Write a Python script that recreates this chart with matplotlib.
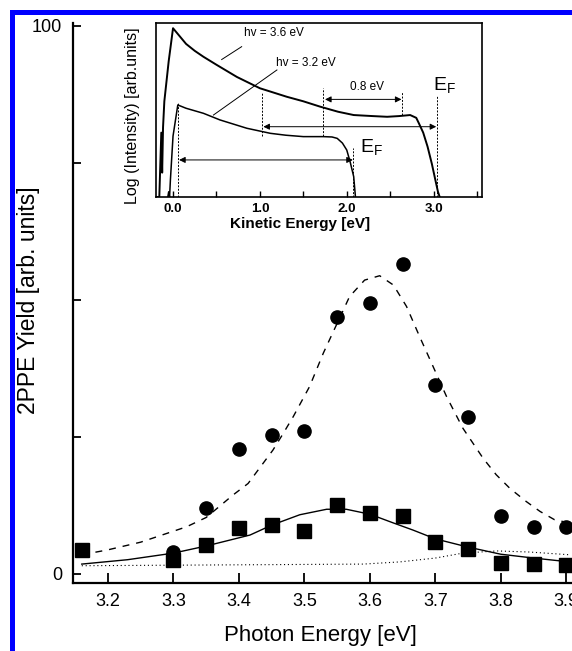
import matplotlib
matplotlib.use('Agg')
import matplotlib.pyplot as plt
from matplotlib.patches import Rectangle
import numpy as np

plt.rcParams['font.family'] = ['Liberation Sans', 'DejaVu Sans']

# ---------------- main data ----------------
photon_E = [3.16, 3.30, 3.35, 3.40, 3.45, 3.50, 3.55, 3.60, 3.65, 3.70, 3.75, 3.80, 3.85, 3.90]
circle_E = [3.30, 3.35, 3.40, 3.45, 3.50, 3.55, 3.60, 3.65, 3.70, 3.75, 3.80, 3.85, 3.90]
circle_y = [4.0, 12.0, 22.8, 25.4, 26.1, 46.8, 49.5, 56.6, 34.4, 28.6, 10.6, 8.6, 8.6]
square_y = [4.4, 2.6, 5.2, 8.4, 8.9, 7.9, 12.5, 11.2, 10.6, 5.9, 4.6, 2.0, 1.8, 1.6]

dash_E = [3.16, 3.20, 3.25, 3.28, 3.32, 3.35, 3.373, 3.391, 3.414, 3.452, 3.467, 3.483, 3.508,
          3.529, 3.550, 3.569, 3.592, 3.615, 3.636, 3.656, 3.676, 3.699, 3.717, 3.742,
          3.773, 3.793, 3.814, 3.839, 3.860, 3.882, 3.905]
dash_y = [3.5, 4.4, 5.8, 7.0, 8.6, 10.3, 12.6, 14.4, 16.5, 22.6, 25.5, 28.7, 34.2,
          40.3, 45.7, 50.6, 53.6, 54.4, 52.7, 48.8, 43.3, 37.2, 32.4, 26.6,
          21.1, 18.1, 15.6, 13.2, 11.4, 9.9, 9.3]

solid_E = [3.16, 3.23, 3.30, 3.35, 3.417, 3.45, 3.493, 3.534, 3.564, 3.60, 3.636, 3.666,
           3.70, 3.75, 3.80, 3.85, 3.905]
solid_y = [1.8, 2.6, 3.8, 5.1, 7.1, 8.9, 10.8, 11.8, 11.8, 10.9, 9.3, 8.0,
           6.4, 4.9, 3.6, 2.9, 2.2]

dot_E = [3.16, 3.30, 3.45, 3.59, 3.646, 3.70, 3.742, 3.794, 3.844, 3.905]
dot_y = [1.5, 1.6, 1.7, 1.8, 2.2, 2.9, 3.8, 4.2, 4.0, 3.5]

x_ticks = [3.2, 3.3, 3.4, 3.5, 3.6, 3.7, 3.8, 3.9]
y_ticks = [0, 25, 50, 75, 100]
y_ticklabels = ['0', '', '', '', '100']

# ---------------- inset data ----------------
spec36_E = [-0.20, -0.158, -0.135, -0.125, -0.115, -0.10, -0.05, 0.0, 0.05, 0.15, 0.25, 0.35,
            0.50, 0.735, 1.0, 1.31, 1.50, 1.695, 1.90, 2.08, 2.30, 2.465, 2.60, 2.73,
            2.80, 2.83, 2.88, 2.93, 2.98, 3.02, 3.05, 3.07]
spec36_y = [0.0, 0.0, 0.37, 0.14, 0.40, 0.55, 0.78, 0.97, 0.94, 0.88, 0.84, 0.806,
            0.76, 0.69, 0.625, 0.576, 0.55, 0.519, 0.49, 0.471, 0.465, 0.461, 0.465, 0.471,
            0.455, 0.424, 0.37, 0.29, 0.19, 0.098, 0.03, 0.0]

spec32_E = [-0.06, -0.05, -0.04, -0.03, 0.0, 0.055, 0.15, 0.35, 0.54, 0.85, 1.12, 1.30,
            1.50, 1.73, 1.83, 1.89, 1.95, 2.00, 2.04, 2.08, 2.10]
spec32_y = [0.0, 0.03, 0.0, 0.1, 0.35, 0.529, 0.51, 0.481, 0.443, 0.395, 0.366, 0.355,
            0.347, 0.347, 0.345, 0.337, 0.31, 0.27, 0.20, 0.117, 0.0]

inset_xticks = [0, 1, 2, 3]
inset_xticklabels = ['0.0', '1.0', '2.0', '3.0']
inset_minor = [0.5, 1.5, 2.5, 3.5]

W, H = 572, 651
fig = plt.figure(figsize=(W / 100, H / 100), dpi=100)
fig.patch.set_facecolor('white')

# ---------------- main axes ----------------
ax = fig.add_axes([73 / W, 1 - 583 / H, (599 - 73) / W, (583 - 23) / H])
ax.set_xlim(3.1466, 3.95)
ax.set_ylim(-1.65, 100.5)
ax.plot(dot_E, dot_y, color='k', lw=0.8, ls=(0, (1, 2.5)), zorder=2)
ax.plot(solid_E, solid_y, color='k', lw=1.0, zorder=2)
ax.plot(dash_E, dash_y, color='k', lw=1.0, ls=(0, (5, 5)), zorder=2)
ax.plot(photon_E, square_y, 's', color='k', ms=9.5, zorder=3)
ax.plot(circle_E, circle_y, 'o', color='k', ms=9.5, zorder=3)

for s in ['top', 'right']:
    ax.spines[s].set_visible(False)
for s in ['left', 'bottom']:
    ax.spines[s].set_linewidth(1.6)
ax.set_xticks(x_ticks)
ax.set_xticklabels(['%.1f' % v for v in x_ticks])
ax.set_yticks(y_ticks)
ax.set_yticklabels(y_ticklabels)
ax.tick_params(axis='x', direction='in', length=7, width=1.3, labelsize=13, pad=7)
ax.tick_params(axis='y', direction='in', length=6, width=1.3, labelsize=13, pad=8)

fig.text(320 / W, 1 - 636 / H, 'Photon Energy [eV]', fontsize=16, ha='center', va='center')
fig.text(29 / W, 1 - 300 / H, '2PPE Yield [arb. units]', fontsize=16.5, rotation=90,
         ha='center', va='center')

# ---------------- inset ----------------
axi = fig.add_axes([156 / W, 1 - 197 / H, 326 / W, 174 / H])
axi.set_facecolor('white')
axi.set_xlim(-0.196, 3.557)
axi.set_ylim(0, 1)
axi.plot(spec36_E, spec36_y, color='k', lw=1.4)
axi.plot(spec32_E, spec32_y, color='k', lw=1.1)
for s in axi.spines.values():
    s.set_linewidth(1.2)
axi.set_yticks([])
axi.set_xticks(inset_xticks)
axi.set_xticklabels(inset_xticklabels, fontweight='bold')
axi.set_xticks(inset_minor, minor=True)
axi.tick_params(axis='x', which='both', direction='in', length=4, width=1.0, labelsize=9.5, pad=4)

# dashed guide lines
vlines = [(0.06, 0.0, 0.54), (1.03, 0.35, 0.60), (1.73, 0.35, 0.625), (2.64, 0.47, 0.605),
          (3.04, 0.0, 0.58), (2.07, 0.0, 0.28)]
for xv, y0, y1 in vlines:
    axi.plot([xv, xv], [y0, y1], color='k', lw=0.7, ls=(0, (2, 1.5)))

arrow_kw = dict(arrowstyle='<|-|>', color='k', lw=0.7, mutation_scale=9, shrinkA=0, shrinkB=0)
axi.annotate('', xy=(2.63, 0.561), xytext=(1.75, 0.561), arrowprops=arrow_kw)
axi.annotate('', xy=(3.03, 0.404), xytext=(1.04, 0.404), arrowprops=arrow_kw)
axi.annotate('', xy=(2.07, 0.213), xytext=(0.07, 0.213), arrowprops=arrow_kw)

axi.plot([0.79, 0.56], [0.864, 0.79], color='k', lw=0.7)
axi.plot([1.196, 0.465], [0.73, 0.471], color='k', lw=0.7)

axi.text(1.165, 0.94, 'hv = 3.6 eV', fontsize=8.5, ha='center', va='center')
axi.text(1.53, 0.77, 'hv = 3.2 eV', fontsize=8.5, ha='center', va='center')
axi.text(2.23, 0.632, '0.8 eV', fontsize=8.5, ha='center', va='center')
axi.text(2.99, 0.64, r'E$_\mathregular{F}$', fontsize=14, ha='left', va='center')
axi.text(2.15, 0.28, r'E$_\mathregular{F}$', fontsize=14, ha='left', va='center')

fig.text(300 / W, 1 - 224 / H, 'Kinetic Energy [eV]', fontsize=11, fontweight='bold',
         ha='center', va='center')
fig.text(132 / W, 1 - 116 / H, 'Log (Intensity) [arb.units]', fontsize=11.5, rotation=90,
         ha='center', va='center')

# ---------------- blue border ----------------
fig.patches.append(Rectangle((10 / W, 1 - 15 / H), 1, 5 / H, transform=fig.transFigure,
                             facecolor='#0000ff', edgecolor='none', zorder=5))
fig.patches.append(Rectangle((10 / W, 0), 5 / W, 1 - 10 / H, transform=fig.transFigure,
                             facecolor='#0000ff', edgecolor='none', zorder=5))

fig.savefig('out.png', dpi=100)
